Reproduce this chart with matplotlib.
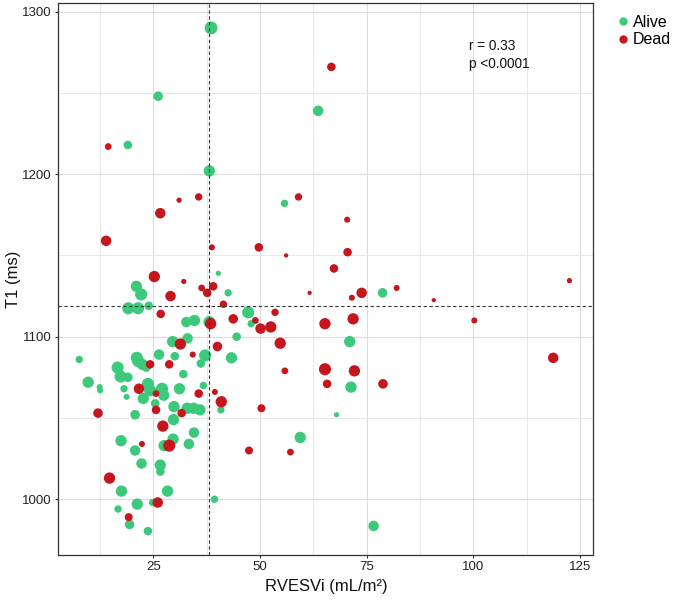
import matplotlib
matplotlib.use("Agg")
import matplotlib.pyplot as plt
from matplotlib.lines import Line2D
from matplotlib.ticker import MultipleLocator

plt.rcParams['font.family'] = ['Liberation Sans', 'DejaVu Sans']

# RVESVi (mL/m2), T1 (ms) and marker weight
alive_x = [38.5, 26.1, 63.6, 19.0, 38.1, 55.7, 40.2, 21.0, 22.1, 42.5,
           19.1, 21.4, 23.9, 47.2, 47.9, 32.7, 34.6, 38.1, 44.5, 71.0,
           29.5, 33.0, 21.1, 26.3, 30.0, 37.1, 43.3, 7.6, 16.6, 21.4,
           22.4, 23.3, 36.1, 17.3, 19.0, 32.0, 78.7, 9.7, 12.4, 12.5,
           18.1, 23.7, 24.2, 27.0, 27.4, 31.1, 36.7, 71.3, 18.7, 22.6,
           25.4, 29.8, 32.9, 34.4, 35.9, 40.8, 20.7, 67.9, 29.7, 34.5,
           17.4, 29.6, 20.7, 27.5, 33.3, 59.4, 22.2, 26.6, 26.6, 17.5,
           28.3, 21.2, 24.8, 16.7, 39.3, 19.4, 23.7, 76.6]
alive_y = [1290, 1248, 1239, 1218, 1202, 1182, 1139, 1131, 1126, 1127,
           1117.5, 1117.5, 1119, 1115, 1108, 1109, 1110, 1109, 1100, 1097,
           1097, 1099, 1087, 1089, 1088, 1088.5, 1087, 1086, 1081, 1085,
           1083, 1081, 1083.5, 1075.5, 1075, 1077, 1127, 1072, 1069, 1067,
           1068, 1071, 1067, 1068, 1064, 1068, 1070, 1069, 1063, 1062,
           1059, 1057, 1056, 1056, 1055, 1055, 1052, 1052, 1049, 1041,
           1036, 1037, 1030, 1033, 1034, 1038, 1022, 1021, 1017, 1005,
           1005, 997, 998, 994, 1000, 984.5, 980.4, 983.6]
alive_w = [9, 5, 6, 4, 7, 3, 1.5, 7, 8, 3,
           8, 8, 4, 8, 3, 6, 7, 8, 4, 7,
           7, 6, 8, 6, 4, 8, 7, 3, 8, 8,
           7, 4, 4, 8, 5, 4, 5, 7, 2, 2,
           3, 8, 8, 8, 7, 7, 3, 7, 2, 7,
           4, 7, 7, 7, 7, 3, 5, 1.5, 7, 6,
           7, 7, 6, 7, 6, 7, 6, 7, 4, 7,
           7, 7, 3, 3, 3, 5, 4, 6]

dead_x = [66.7, 14.4, 31.0, 35.6, 59.0, 26.6, 70.4, 13.9, 38.7, 49.7,
          56.1, 70.5, 67.3, 25.2, 32.1, 36.3, 39.0, 37.6, 29.0, 61.6,
          71.5, 73.8, 82.0, 90.7, 122.5, 41.4, 26.7, 43.7, 48.9, 50.1,
          52.5, 53.5, 65.2, 71.8, 38.4, 100.2, 54.7, 31.3, 40.0, 34.2,
          24.2, 28.7, 55.8, 65.2, 72.1, 118.7, 78.8, 21.6, 25.6, 35.6,
          39.4, 40.9, 65.7, 25.6, 31.6, 50.3, 12.0, 27.2, 22.3, 28.7,
          47.4, 57.1, 14.7, 26.0, 19.2]
dead_y = [1266, 1217, 1184, 1186, 1186, 1176, 1172, 1159, 1155, 1155,
          1150, 1152, 1142, 1137, 1134, 1130, 1131, 1127, 1125, 1127,
          1124, 1127, 1130, 1122.5, 1134.5, 1120, 1114, 1111, 1110, 1105,
          1106, 1115, 1108, 1111, 1108, 1110, 1096, 1095.5, 1094, 1089,
          1083, 1083, 1079, 1080, 1079, 1087, 1071, 1068, 1065, 1065,
          1066, 1060, 1071, 1055, 1053, 1056, 1053, 1045, 1034, 1033,
          1030, 1029, 1013, 998, 989]
dead_w = [4, 2.5, 1.5, 3, 3, 6, 2, 6, 2, 4,
          1, 4, 4, 7, 1.5, 2.5, 4, 4, 6, 1,
          2, 6, 2, 1, 1.5, 3, 4, 5, 2.5, 6,
          7, 3, 7, 7, 7, 2, 7, 7, 5, 2,
          4, 4, 2.5, 8, 7, 6, 5, 6, 2.5, 4,
          2, 7, 4, 4, 4, 3.5, 5, 7, 2, 8,
          3.5, 2.5, 7, 6, 3.5]

x_cut = 38.1
y_cut = 1119
stats_text = "r = 0.33\np <0.0001"

GREEN = "#3DC97B"
RED = "#C4161C"
INK = "#333333"

fig = plt.figure(figsize=(6.75, 6), dpi=100)
ax = fig.add_axes([0.0864, 0.075, 0.7926, 0.9205])

ax.scatter(alive_x, alive_y, s=[w * 9.5 for w in alive_w], color=GREEN,
           linewidths=0, zorder=3)
ax.scatter(dead_x, dead_y, s=[w * 9.5 for w in dead_w], color=RED,
           linewidths=0, zorder=4)

ax.axvline(x_cut, color=INK, lw=0.8, ls=(0, (3, 2.3)), zorder=5)
ax.axhline(y_cut, color=INK, lw=0.8, ls=(0, (3, 2.3)), zorder=5)

ax.text(98.9, 1283, stats_text, ha='left', va='top', fontsize=9.8,
        color='#111111', linespacing=1.3)

ax.set_xlim(2.7, 128.1)
ax.set_ylim(965.7, 1305.5)
ax.xaxis.set_major_locator(MultipleLocator(25))
ax.xaxis.set_minor_locator(MultipleLocator(12.5))
ax.yaxis.set_major_locator(MultipleLocator(100))
ax.yaxis.set_minor_locator(MultipleLocator(50))

ax.set_axisbelow(True)
ax.grid(which='major', color='#DCDCDC', lw=0.8)
ax.grid(which='minor', color='#E8E8E8', lw=0.7)
ax.tick_params(which='major', length=2.5, width=0.8, color=INK,
               labelsize=9.5, labelcolor='#222222', pad=2)
ax.tick_params(which='minor', length=0)
for sp in ax.spines.values():
    sp.set_color(INK)
    sp.set_linewidth(0.9)

ax.set_xlabel("RVESVi (mL/m²)", fontsize=12, color='#111111')
ax.set_ylabel("T1 (ms)", fontsize=12, color='#111111')
ax.xaxis.set_label_coords(0.5, -0.043)
ax.yaxis.set_label_coords(-0.07, 0.5)

handles = [Line2D([], [], ls='', marker='o', ms=6, color=GREEN, mew=0),
           Line2D([], [], ls='', marker='o', ms=6, color=RED, mew=0)]
fig.legend(handles, ["Alive", "Dead"], loc='upper left',
           bbox_to_anchor=(618 / 675, 1 - 15 / 600), frameon=False,
           fontsize=11.5, handlelength=0.6, handletextpad=0.35,
           labelspacing=0.15, borderpad=0, borderaxespad=0)

fig.savefig("out.png", dpi=100)
